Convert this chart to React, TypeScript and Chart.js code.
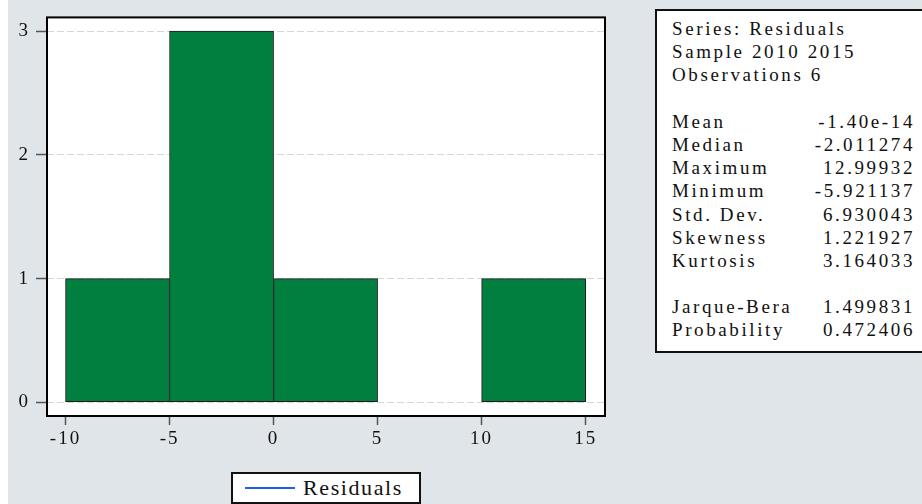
import React, { useEffect, useRef } from "react";
import { Chart, registerables } from "chart.js";

Chart.register(...registerables);

// ---- data ----
const seriesName = "Residuals";
const binStarts = [-10, -5, 0, 5, 10];
const binWidth = 5;
const counts = [1, 3, 1, 0, 1];
const xTickValues = [-10, -5, 0, 5, 10, 15];
const yTickValues = [0, 1, 2, 3];
const headerLines = ["Series: Residuals", "Sample 2010 2015", "Observations 6"];
const statLabels = ["Mean", "Median", "Maximum", "Minimum", "Std. Dev.", "Skewness", "Kurtosis"];
const statValues = ["-1.40e-14", "-2.011274", "12.99932", "-5.921137", "6.930043", "1.221927", "3.164033"];
const testLabels = ["Jarque-Bera", "Probability"];
const testValues = ["1.499831", "0.472406"];

const FONT = "'Liberation Serif', 'Times New Roman', serif";
const BG = "#e0e5ea";
const GREEN = "#007f3f";

const framePlugin = {
  id: "frame",
  beforeDraw(chart: any) {
    const { ctx, chartArea } = chart;
    ctx.save();
    ctx.fillStyle = "#ffffff";
    ctx.fillRect(chartArea.left, chartArea.top, chartArea.right - chartArea.left, chartArea.bottom - chartArea.top);
    ctx.restore();
    ctx.letterSpacing = "2px";
  },
  afterDraw(chart: any) {
    const { ctx, chartArea } = chart;
    ctx.letterSpacing = "0px";
    ctx.save();
    ctx.strokeStyle = "#000000";
    ctx.lineWidth = 2;
    ctx.strokeRect(chartArea.left, chartArea.top, chartArea.right - chartArea.left, chartArea.bottom - chartArea.top);
    ctx.restore();
  },
};

function HistogramChart() {
  const ref = useRef<HTMLCanvasElement | null>(null);
  useEffect(() => {
    if (!ref.current) return;
    const data = binStarts.map((s, i) => ({ x: s + binWidth / 2, y: counts[i] === 0 ? null : counts[i] }));
    const chart = new Chart(ref.current, {
      type: "bar",
      data: {
        datasets: [
          {
            label: seriesName,
            data: data as any,
            backgroundColor: GREEN,
            borderColor: "#1c1c1c",
            borderWidth: 1,
            borderSkipped: false,
            barPercentage: 1,
            categoryPercentage: 1,
            grouped: false,
          } as any,
        ],
      },
      options: {
        animation: false,
        responsive: false,
        devicePixelRatio: 1,
        layout: { padding: { left: 0, top: 10, right: 317, bottom: 0 } },
        plugins: { legend: { display: false }, tooltip: { enabled: false } },
        scales: {
          x: {
            type: "linear",
            offset: false,
            min: -10.89,
            max: 15.93,
            afterFit(scale: any) {
              scale.height = 88;
            },
            afterBuildTicks(scale: any) {
              scale.ticks = xTickValues.map((v) => ({ value: v }));
            },
            ticks: {
              includeBounds: false,
              autoSkip: false,
              maxRotation: 0,
              padding: 3,
              color: "#111111",
              font: { family: FONT, size: 19 },
            },
            grid: {
              offset: false,
              drawOnChartArea: false,
              drawTicks: true,
              tickLength: 9,
              tickColor: "#555555",
              tickWidth: 1.5,
            },
            border: { display: false },
          },
          y: {
            type: "linear",
            min: -0.111,
            max: 3.111,
            afterFit(scale: any) {
              scale.width = 47;
            },
            afterBuildTicks(scale: any) {
              scale.ticks = yTickValues.map((v) => ({ value: v }));
            },
            ticks: {
              includeBounds: false,
              autoSkip: false,
              padding: 6,
              color: "#111111",
              font: { family: FONT, size: 19 },
            },
            grid: {
              color: "#d6d6d6",
              lineWidth: 1,
              drawTicks: true,
              tickLength: 11,
              tickColor: "#555555",
              tickWidth: 1.5,
              tickBorderDash: [],
            } as any,
            border: { display: false, dash: [7, 3] },
          },
        },
      } as any,
      plugins: [framePlugin],
    });
    return () => chart.destroy();
  }, []);
  return <canvas ref={ref} width={922} height={504} style={{ position: "absolute", left: 0, top: 0 }} />;
}

const rowStyle: React.CSSProperties = { display: "flex", justifyContent: "space-between", height: 23.2 };

export default function App() {
  return (
    <div style={{ position: "absolute", left: 0, top: 0, width: 922, height: 504, overflow: "hidden", background: "#ffffff" }}>
      <div style={{ position: "absolute", left: 8, top: 0, width: 914, height: 504, background: BG }} />
      <HistogramChart />
      <div
        style={{
          position: "absolute",
          left: 655,
          top: 9,
          width: 300,
          boxSizing: "border-box",
          border: "2px solid #111",
          background: "#fff",
          padding: "6px 0 9px 15px",
          fontFamily: FONT,
          fontSize: 19,
          lineHeight: "23.2px",
          letterSpacing: "2.6px",
          color: "#111",
        }}
      >
        <div style={{ width: 243 }}>
          {headerLines.map((t) => (
            <div key={t} style={{ height: 23.2, whiteSpace: "nowrap" }}>{t}</div>
          ))}
          <div style={{ height: 23.2 }} />
          {statLabels.map((l, i) => (
            <div key={l} style={rowStyle}>
              <span>{l}</span>
              <span>{statValues[i]}</span>
            </div>
          ))}
          <div style={{ height: 23.2 }} />
          {testLabels.map((l, i) => (
            <div key={l} style={rowStyle}>
              <span>{l}</span>
              <span>{testValues[i]}</span>
            </div>
          ))}
        </div>
      </div>
      <div
        style={{
          position: "absolute",
          left: 231,
          top: 472,
          width: 190,
          height: 32,
          boxSizing: "border-box",
          border: "2px solid #111",
          background: "#fff",
          fontFamily: FONT,
          fontSize: 22,
          letterSpacing: "1.6px",
          color: "#111",
        }}
      >
        <div style={{ position: "absolute", left: 12, top: 13, width: 50, height: 2, background: "#1f5fe6" }} />
        <div style={{ position: "absolute", left: 70, top: 0, lineHeight: "28px", whiteSpace: "nowrap" }}>{seriesName}</div>
      </div>
    </div>
  );
}
